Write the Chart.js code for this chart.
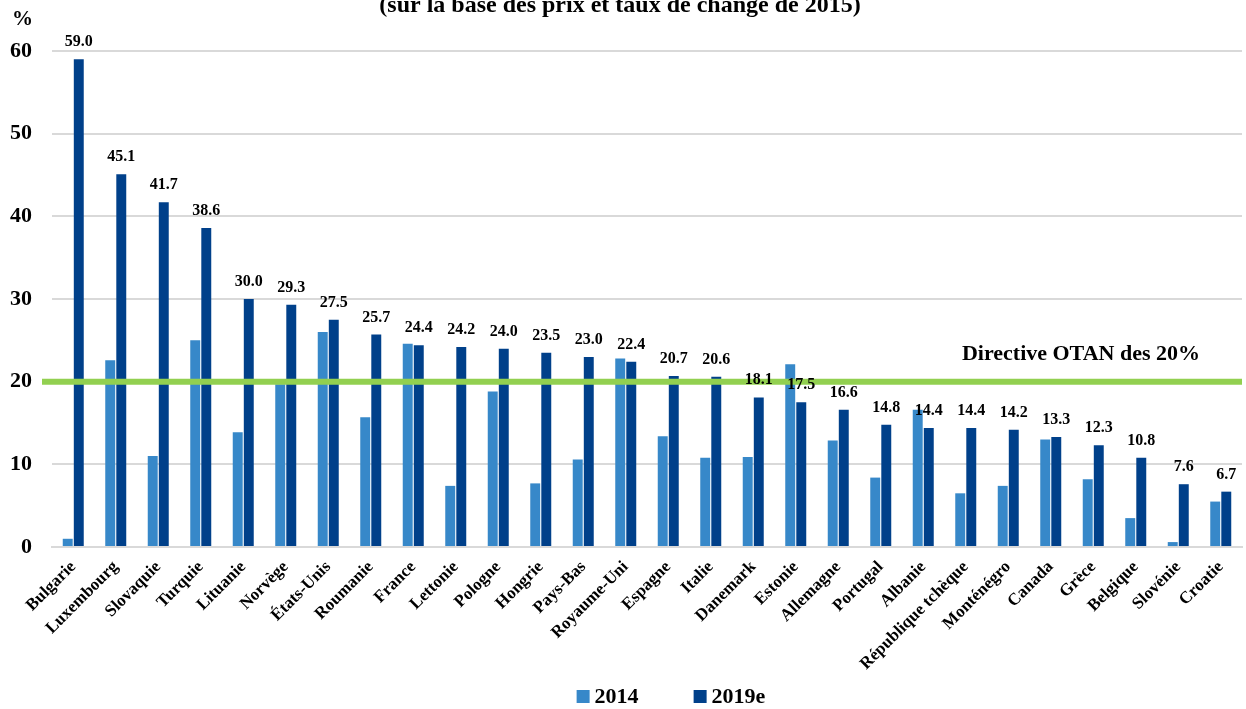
<!DOCTYPE html>
<html><head><meta charset="utf-8">
<script src="https://cdn.jsdelivr.net/npm/chart.js@4/dist/chart.umd.min.js"></script>
<style>html,body{margin:0;padding:0;background:#fff}#wrap{width:1246px;height:709px;position:relative}</style>
</head><body><div id="wrap"><canvas id="c"></canvas></div>
<script>
const categories = ['Bulgarie','Luxembourg','Slovaquie','Turquie','Lituanie','Norvège','États-Unis','Roumanie','France','Lettonie','Pologne','Hongrie','Pays-Bas','Royaume-Uni','Espagne','Italie','Danemark','Estonie','Allemagne','Portugal','Albanie','République tchèque','Monténégro','Canada','Grèce','Belgique','Slovénie','Croatie'];
const values2014 = [1.0,22.6,11.0,25.0,13.9,19.7,26.0,15.7,24.6,7.4,18.8,7.7,10.6,22.8,13.4,10.8,10.9,22.1,12.9,8.4,16.6,6.5,7.4,13.0,8.2,3.5,0.6,5.5];
const values2019 = [59.0,45.1,41.7,38.6,30.0,29.3,27.5,25.7,24.4,24.2,24.0,23.5,23.0,22.4,20.7,20.6,18.1,17.5,16.6,14.8,14.4,14.4,14.2,13.3,12.3,10.8,7.6,6.7];
const seriesNames = ['2014','2019e'];
const seriesColors = ['#3788c9','#00408a'];
const yTicks = [0,10,20,30,40,50,60];
const guideValue = 20;
const guideLabel = 'Directive OTAN des 20%';
const titleText = '(sur la base des prix et taux de change de 2015)';
const unitLabel = '%';

const FONT = "'Liberation Serif', 'DejaVu Serif', serif";

const overlay = {
  id: 'overlay',
  afterDatasetsDraw(chart) {
    const ctx = chart.ctx, y = chart.scales.y, area = chart.chartArea;
    ctx.save();
    const gy = y.getPixelForValue(guideValue);
    ctx.strokeStyle = '#92d050';
    ctx.lineWidth = 6;
    ctx.beginPath();
    ctx.moveTo(area.left - 10, gy);
    ctx.lineTo(chart.width - 4, gy);
    ctx.stroke();
    ctx.fillStyle = '#000';
    ctx.font = "bold 22px " + FONT;
    ctx.textAlign = 'right';
    ctx.textBaseline = 'alphabetic';
    ctx.fillText(guideLabel, 1200, gy - 22);
    const meta = chart.getDatasetMeta(1);
    ctx.font = "bold 16px " + FONT;
    ctx.textAlign = 'center';
    meta.data.forEach((el, i) => {
      ctx.fillText(values2019[i].toFixed(1), el.x, el.y - 13);
    });
    ctx.restore();
  },
  afterDraw(chart) {
    const ctx = chart.ctx, area = chart.chartArea;
    ctx.save();
    ctx.fillStyle = '#000';
    ctx.font = "bold 24px " + FONT;
    ctx.textAlign = 'center';
    ctx.textBaseline = 'alphabetic';
    ctx.fillText(titleText, 620, 12);
    ctx.font = "bold 21px " + FONT;
    ctx.textAlign = 'left';
    ctx.fillText(unitLabel, 12, 25);
    // legend
    ctx.font = "bold 22px " + FONT;
    const box = 13, gap = 5, spacing = 55;
    const names = chart.data.datasets.map(d => d.label);
    const widths = names.map(n => ctx.measureText(n).width);
    const total = names.length * (box + gap) + widths.reduce((a, b) => a + b, 0) + spacing * (names.length - 1);
    let x = (area.left + area.right) / 2 + 24 - total / 2;
    const baseY = chart.height - 6;
    names.forEach((n, i) => {
      ctx.fillStyle = chart.data.datasets[i].backgroundColor;
      ctx.fillRect(x, baseY - 13, box, box);
      ctx.fillStyle = '#000';
      ctx.fillText(n, x + box + gap, baseY);
      x += box + gap + widths[i] + spacing;
    });
    ctx.restore();
  }
};

new Chart(document.getElementById('c'), {
  type: 'bar',
  data: {
    labels: categories,
    datasets: [
      {label: seriesNames[0], data: values2014, backgroundColor: seriesColors[0], borderWidth: 0},
      {label: seriesNames[1], data: values2019, backgroundColor: seriesColors[1], borderWidth: 0}
    ]
  },
  options: {
    responsive: true,
    maintainAspectRatio: false,
    animation: false,
    categoryPercentage: 0.52,
    barPercentage: 0.9,
    layout: {padding: {top: 51, right: 4, left: 0, bottom: 33}},
    plugins: {
      legend: {display: false},
      tooltip: {enabled: false},
      title: {display: false}
    },
    scales: {
      x: {
        grid: {display: false},
        border: {color: '#d9d9d9', width: 2},
        ticks: {color: '#000', minRotation: 45, maxRotation: 45, autoSkip: false, padding: 2, font: {family: FONT, size: 17, weight: 'bold'}}
      },
      y: {
        min: 0, max: 60,
        afterBuildTicks(scale) { scale.ticks = yTicks.map(v => ({value: v})); },
        afterFit(scale) { scale.width = 52; },
        grid: {color: '#d9d9d9', lineWidth: 2, drawTicks: false},
        border: {display: false},
        ticks: {color: '#000', padding: 20, font: {family: FONT, size: 22, weight: 'bold'}}
      }
    }
  },
  plugins: [overlay]
});
</script></body></html>
